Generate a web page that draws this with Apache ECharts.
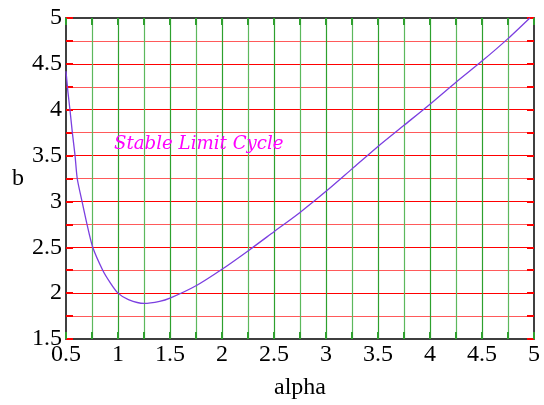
<!DOCTYPE html>
<html>
<head>
<meta charset="utf-8">
<script src="https://cdn.jsdelivr.net/npm/echarts@6/dist/echarts.min.js"></script>
<style>
  html, body { margin: 0; padding: 0; background: #fff; }
  #chart { width: 544px; height: 405px; }
</style>
</head>
<body>
<div id="chart"></div>
<script>
// curve (alpha -> b)
const alphaVals = [0.5, 0.518, 0.538, 0.561, 0.587, 0.608, 0.654, 0.702, 0.757, 0.853, 0.92, 1.0, 1.1, 1.25, 1.4, 1.5, 1.75, 2.0, 2.25, 2.5, 2.75, 3.0, 3.25, 3.5, 3.75, 4.0, 4.25, 4.5, 4.75, 4.96];
const bVals     = [4.42, 4.2, 4.0, 3.75, 3.5, 3.25, 3.0, 2.75, 2.5, 2.25, 2.123, 2.0, 1.93, 1.888, 1.91, 1.945, 2.08, 2.26, 2.46, 2.67, 2.88, 3.11, 3.355, 3.6, 3.83, 4.06, 4.3, 4.53, 4.775, 5.0];
const labelText = 'Stable Limit Cycle';

const serif = '"Liberation Serif", "Times New Roman", serif';
const RED = '#ff0000', RED_MINOR = '#ff5a5a';
const GREEN = '#2ea02e', GREEN_MINOR = '#5cb85c';

const chart = echarts.init(document.getElementById('chart'), null, { renderer: 'canvas' });

function xAx(pos, withLabels) {
  return {
    type: 'value', position: pos, min: 0.5, max: 5, interval: 0.5,
    name: withLabels ? 'alpha' : '', nameLocation: 'middle', nameGap: 37,
    nameTextStyle: { fontFamily: serif, fontSize: 24, color: '#000' },
    axisLine: { show: true, onZero: false, lineStyle: { color: '#000', width: 1.5 } },
    axisTick: { show: true, inside: true, length: 7, lineStyle: { color: GREEN, width: 2 } },
    minorTick: { show: true, splitNumber: 2, length: 7, lineStyle: { color: GREEN, width: 2 } },
    axisLabel: { show: withLabels, fontFamily: serif, fontSize: 24, color: '#000', margin: 4 },
    splitLine: { show: withLabels, showMinLine: false, showMaxLine: false, lineStyle: { color: GREEN, width: 1.2 } },
    minorSplitLine: { show: withLabels, lineStyle: { color: GREEN_MINOR, width: 1.2 } }
  };
}
function yAx(pos, withLabels) {
  return {
    type: 'value', position: pos, min: 1.5, max: 5, interval: 0.5,
    name: withLabels ? 'b' : '', nameLocation: 'middle', nameGap: 42, nameRotate: 0,
    nameTextStyle: { fontFamily: serif, fontSize: 24, color: '#000' },
    axisLine: { show: true, onZero: false, lineStyle: { color: '#000', width: 1.5 } },
    axisTick: { show: true, inside: true, length: 7, lineStyle: { color: RED, width: 2 } },
    minorTick: { show: true, splitNumber: 2, length: 7, lineStyle: { color: RED, width: 2 } },
    axisLabel: { show: withLabels, fontFamily: serif, fontSize: 24, color: '#000', margin: 4 },
    splitLine: { show: withLabels, showMinLine: false, showMaxLine: false, lineStyle: { color: RED, width: 1.2 } },
    minorSplitLine: { show: withLabels, lineStyle: { color: RED_MINOR, width: 1.2 } }
  };
}

chart.setOption({
  animation: false,
  backgroundColor: '#fff',
  grid: { left: 66, right: 10, top: 18, bottom: 60 },
  xAxis: [xAx('bottom', true), xAx('top', false)],
  yAxis: [yAx('left', true), yAx('right', false)],
  series: [{
    type: 'line',
    data: alphaVals.map((a, i) => [a, bVals[i]]),
    smooth: 0.25,
    symbol: 'none',
    clip: true,
    lineStyle: { color: '#7b3fe0', width: 1.3 },
    z: 5
  }],
  graphic: [{
    type: 'text', left: 114, top: 135, z: 10,
    style: {
      text: labelText, fill: '#ff00ff',
      font: 'italic 18.2px "DejaVu Serif", serif'
    }
  }]
});
</script>
</body>
</html>
